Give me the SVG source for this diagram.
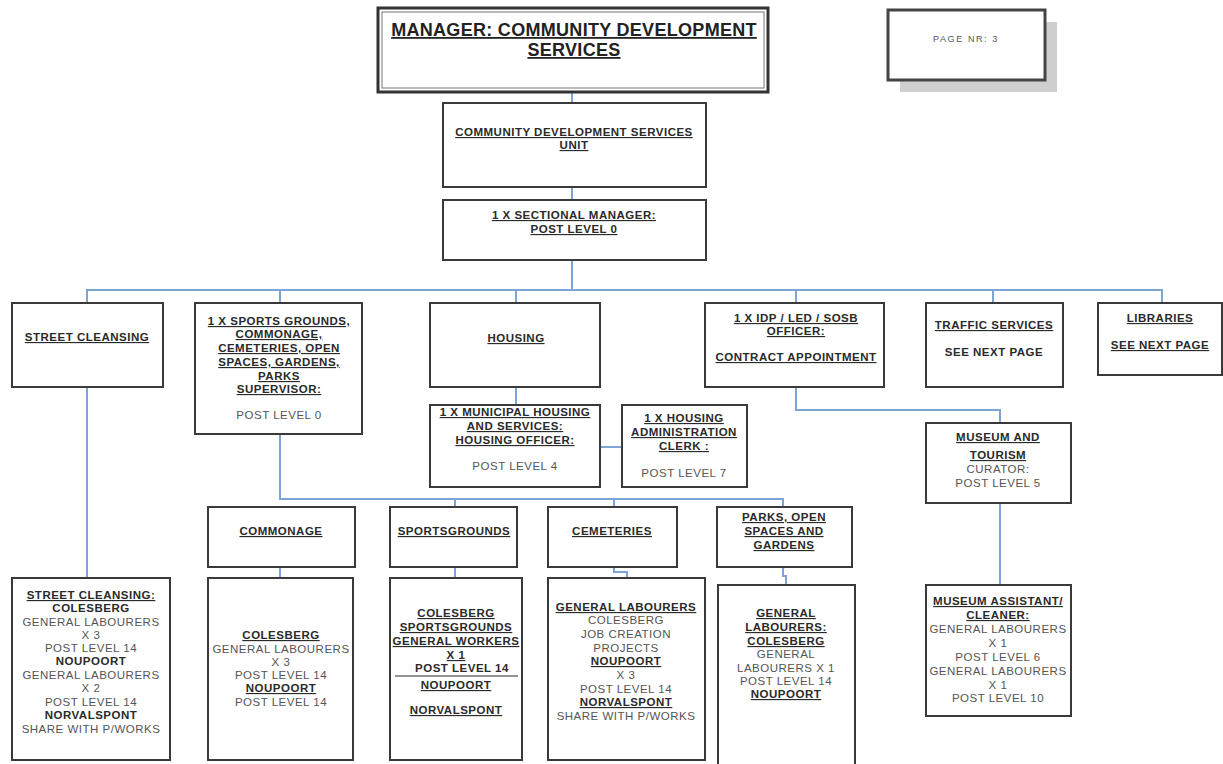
<svg xmlns="http://www.w3.org/2000/svg" width="1223" height="764" viewBox="0 0 1223 764">
<style>
  .box { fill: #fff; stroke: #3a3a3a; stroke-width: 2; }
  .wire { fill: none; stroke: #7ea3d9; stroke-width: 2; }
  text { font-family: "Liberation Sans", Arial, sans-serif; text-anchor: middle; }
  .h { font-size: 11.5px; letter-spacing: 0.5px; font-weight: bold; fill: #2a2a2a; text-decoration: underline; }
  .k { font-size: 11.5px; letter-spacing: 0.5px; font-weight: bold; fill: #2a2a2a; }
  .n { font-size: 11.5px; letter-spacing: 0.5px; fill: #555; }
  .t { font-size: 18px; letter-spacing: 0.3px; font-weight: bold; fill: #222; text-decoration: underline; }
</style>
<rect width="1223" height="764" fill="#fff"/>

<!-- reporting lines -->
<g id="connectors">
  <path class="wire" d="M572 92 V103 M572 187 V200 M572 260 V290"/>
  <path class="wire" d="M87 303 V290 H1162 V303 M280 290 V303 M516 290 V303 M796 290 V303 M993 290 V303"/>
  <path class="wire" d="M87 387 V578"/>
  <path class="wire" d="M516 387 V405 M600 447 H622"/>
  <path class="wire" d="M796 387 V410 H1000 V423 M1000 503 V585"/>
  <path class="wire" d="M280 434 V499 H783 V507 M455 499 V507 M614 499 V507"/>
  <path class="wire" d="M280 567 V578 M455 567 V578 M614 567 V572 H627 V578 M783 567 V576 H786 V585"/>
</g>

<g id="manager">
  <rect x="378" y="8" width="390" height="84" fill="#fff" stroke="#333" stroke-width="3"/>
  <rect x="382" y="12" width="382" height="76" fill="none" stroke="#777" stroke-width="1"/>
  <text class="t" x="574" y="36">MANAGER: COMMUNITY DEVELOPMENT</text>
  <text class="t" x="574" y="56">SERVICES</text>
</g>

<g id="page-nr">
  <rect x="900" y="22" width="157" height="70" fill="#cfcfcf"/>
  <rect x="888" y="10" width="157" height="70" fill="#fff" stroke="#444" stroke-width="3"/>
  <text x="966" y="42" style="font-size:9px;letter-spacing:1.6px;fill:#555">PAGE NR: 3</text>
</g>

<g id="cds-unit">
  <rect class="box" x="443" y="103" width="263" height="84"/>
  <text class="h" x="574" y="136">COMMUNITY DEVELOPMENT SERVICES</text>
  <text class="h" x="574" y="149">UNIT</text>
</g>

<g id="sectional-manager">
  <rect class="box" x="443" y="200" width="263" height="60"/>
  <text class="h" x="574" y="219">1 X SECTIONAL MANAGER:</text>
  <text class="h" x="574" y="233">POST LEVEL 0</text>
</g>

<g id="street-cleansing">
  <rect class="box" x="12" y="303" width="151" height="84"/>
  <text class="h" x="87" y="341">STREET CLEANSING</text>
</g>

<g id="sports-supervisor">
  <rect class="box" x="195" y="303" width="167" height="131"/>
  <text class="h" x="279" y="325">1 X SPORTS GROUNDS,</text>
  <text class="h" x="279" y="338">COMMONAGE,</text>
  <text class="h" x="279" y="352">CEMETERIES, OPEN</text>
  <text class="h" x="279" y="366">SPACES, GARDENS,</text>
  <text class="h" x="279" y="380">PARKS</text>
  <text class="h" x="279" y="393">SUPERVISOR:</text>
  <text class="n" x="279" y="419">POST LEVEL 0</text>
</g>

<g id="housing">
  <rect class="box" x="430" y="303" width="170" height="84"/>
  <text class="h" x="516" y="342">HOUSING</text>
</g>

<g id="idp-officer">
  <rect class="box" x="705" y="303" width="179" height="84"/>
  <text class="h" x="796" y="322">1 X IDP / LED / SOSB</text>
  <text class="h" x="796" y="335">OFFICER:</text>
  <text class="h" x="796" y="361">CONTRACT APPOINTMENT</text>
</g>

<g id="traffic">
  <rect class="box" x="926" y="303" width="137" height="84"/>
  <text class="h" x="994" y="329">TRAFFIC SERVICES</text>
  <text class="k" x="994" y="356">SEE NEXT PAGE</text>
</g>

<g id="libraries">
  <rect class="box" x="1098" y="303" width="124" height="72"/>
  <text class="h" x="1160" y="322">LIBRARIES</text>
  <text class="h" x="1160" y="349">SEE NEXT PAGE</text>
</g>

<g id="housing-officer">
  <rect class="box" x="430" y="405" width="170" height="82"/>
  <text class="h" x="515" y="416">1 X MUNICIPAL HOUSING</text>
  <text class="h" x="515" y="430">AND SERVICES:</text>
  <text class="h" x="515" y="444">HOUSING OFFICER:</text>
  <text class="n" x="515" y="470">POST LEVEL 4</text>
</g>

<g id="housing-clerk">
  <rect class="box" x="622" y="405" width="125" height="82"/>
  <text class="h" x="684" y="422">1 X HOUSING</text>
  <text class="h" x="684" y="436">ADMINISTRATION</text>
  <text class="h" x="684" y="450">CLERK :</text>
  <text class="n" x="684" y="477">POST LEVEL 7</text>
</g>

<g id="museum">
  <rect class="box" x="926" y="423" width="145" height="80"/>
  <text class="h" x="998" y="441">MUSEUM AND</text>
  <text class="h" x="998" y="459">TOURISM</text>
  <text class="n" x="998" y="473">CURATOR:</text>
  <text class="n" x="998" y="487">POST LEVEL 5</text>
</g>

<g id="commonage">
  <rect class="box" x="208" y="507" width="147" height="60"/>
  <text class="h" x="281" y="535">COMMONAGE</text>
</g>

<g id="sportsgrounds">
  <rect class="box" x="390" y="507" width="127" height="60"/>
  <text class="h" x="454" y="535">SPORTSGROUNDS</text>
</g>

<g id="cemeteries">
  <rect class="box" x="548" y="507" width="129" height="60"/>
  <text class="h" x="612" y="535">CEMETERIES</text>
</g>

<g id="parks">
  <rect class="box" x="717" y="507" width="135" height="60"/>
  <text class="h" x="784" y="521">PARKS, OPEN</text>
  <text class="h" x="784" y="535">SPACES AND</text>
  <text class="h" x="784" y="549">GARDENS</text>
</g>

<g id="street-cleansing-staff">
  <rect class="box" x="12" y="578" width="158" height="182"/>
  <text class="h" x="91" y="599">STREET CLEANSING:</text>
  <text class="k" x="91" y="612">COLESBERG</text>
  <text class="n" x="91" y="626">GENERAL LABOURERS</text>
  <text class="n" x="91" y="639">X 3</text>
  <text class="n" x="91" y="652">POST LEVEL 14</text>
  <text class="k" x="91" y="665">NOUPOORT</text>
  <text class="n" x="91" y="679">GENERAL LABOURERS</text>
  <text class="n" x="91" y="692">X 2</text>
  <text class="n" x="91" y="706">POST LEVEL 14</text>
  <text class="k" x="91" y="719">NORVALSPONT</text>
  <text class="n" x="91" y="733">SHARE WITH P/WORKS</text>
</g>

<g id="commonage-staff">
  <rect class="box" x="208" y="578" width="145" height="182"/>
  <text class="h" x="281" y="639">COLESBERG</text>
  <text class="n" x="281" y="653">GENERAL LABOURERS</text>
  <text class="n" x="281" y="666">X 3</text>
  <text class="n" x="281" y="679">POST LEVEL 14</text>
  <text class="h" x="281" y="692">NOUPOORT</text>
  <text class="n" x="281" y="706">POST LEVEL 14</text>
</g>

<g id="sportsgrounds-staff">
  <rect class="box" x="390" y="578" width="132" height="182"/>
  <text class="h" x="456" y="617">COLESBERG</text>
  <text class="h" x="456" y="631">SPORTSGROUNDS</text>
  <text class="h" x="456" y="645">GENERAL WORKERS</text>
  <text class="h" x="456" y="659">X 1</text>
  <text class="k" x="462" y="672">POST LEVEL 14</text>
  <line x1="395" y1="676" x2="518" y2="676" stroke="#2a2a2a" stroke-width="1"/>
  <text class="h" x="456" y="689">NOUPOORT</text>
  <text class="h" x="456" y="714">NORVALSPONT</text>
</g>

<g id="cemeteries-staff">
  <rect class="box" x="548" y="578" width="157" height="182"/>
  <text class="h" x="626" y="611">GENERAL LABOURERS</text>
  <text class="n" x="626" y="624">COLESBERG</text>
  <text class="n" x="626" y="638">JOB CREATION</text>
  <text class="n" x="626" y="652">PROJECTS</text>
  <text class="h" x="626" y="665">NOUPOORT</text>
  <text class="n" x="626" y="679">X 3</text>
  <text class="n" x="626" y="693">POST LEVEL 14</text>
  <text class="h" x="626" y="706">NORVALSPONT</text>
  <text class="n" x="626" y="720">SHARE WITH P/WORKS</text>
</g>

<g id="parks-staff">
  <rect class="box" x="718" y="585" width="137" height="185"/>
  <text class="h" x="786" y="617">GENERAL</text>
  <text class="h" x="786" y="631">LABOURERS:</text>
  <text class="h" x="786" y="645">COLESBERG</text>
  <text class="n" x="786" y="658">GENERAL</text>
  <text class="n" x="786" y="672">LABOURERS X 1</text>
  <text class="n" x="786" y="685">POST LEVEL 14</text>
  <text class="h" x="786" y="698">NOUPOORT</text>
</g>

<g id="museum-staff">
  <rect class="box" x="926" y="585" width="145" height="131"/>
  <text class="h" x="998" y="605">MUSEUM ASSISTANT/</text>
  <text class="h" x="998" y="619">CLEANER:</text>
  <text class="n" x="998" y="633">GENERAL LABOURERS</text>
  <text class="n" x="998" y="647">X 1</text>
  <text class="n" x="998" y="661">POST LEVEL 6</text>
  <text class="n" x="998" y="675">GENERAL LABOURERS</text>
  <text class="n" x="998" y="689">X 1</text>
  <text class="n" x="998" y="702">POST LEVEL 10</text>
</g>
</svg>
